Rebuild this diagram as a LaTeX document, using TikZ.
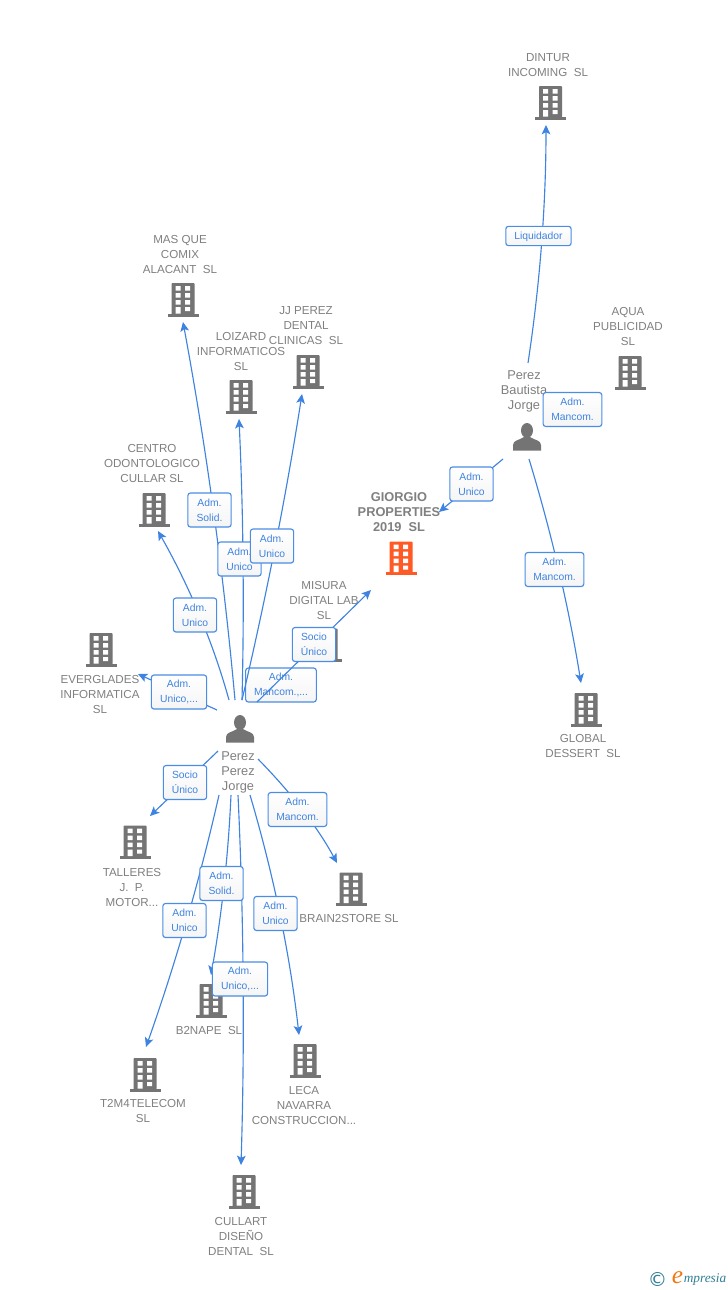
\documentclass[tikz,border=0pt]{standalone}
\usepackage{fontspec}
\setmainfont{Liberation Sans}
\newfontfamily\serifit{Liberation Serif}
\newfontfamily\symfont{DejaVu Sans}
\usetikzlibrary{arrows.meta,calc}
\definecolor{flowblue}{HTML}{3F83E0}
\definecolor{boxblue}{HTML}{4A8DE6}
\definecolor{txtgray}{HTML}{808080}
\definecolor{icongray}{HTML}{747474}
\definecolor{iconorange}{HTML}{FF5A26}
\definecolor{logoteal}{HTML}{2F7F96}
\definecolor{logoorange}{HTML}{F07A12}
\tikzset{
  x=0.75pt,y=-0.75pt,
  flow/.style={draw=flowblue,line width=0.85pt,-{Stealth[length=7pt,width=6.5pt,inset=1.6pt]}},
  tag/.style={draw=boxblue,line width=0.85pt,rounded corners=2pt,top color=white,bottom color=black!4,
    text=flowblue,font=\fontsize{7.75}{11.25}\selectfont,align=center,inner sep=0pt,minimum height=25.5pt},
  lbl/.style={text=txtgray,font=\fontsize{8.7}{11.25}\selectfont,align=center,inner sep=0pt},
  boldlbl/.style={text=txtgray,font=\fontsize{9.6}{11.25}\selectfont\bfseries,align=center,inner sep=0pt},
  perslbl/.style={text=txtgray,font=\fontsize{9.6}{11.25}\selectfont,align=center,inner sep=0pt},
  anchorbox/.style={inner sep=0pt,minimum width=24pt,minimum height=25.5pt},
  bldg/.pic={
    \fill[pic actions,rounded corners=0.6pt] (-11.5,-16.5) rectangle (11.5,15);
    \fill[pic actions] (-15.5,14) rectangle (15.5,17);
    \fill[white] (-7.5,-13.5) rectangle (-2.5,-9) (2,-13.5) rectangle (7,-9)
      (-7.5,-6.5) rectangle (-2.5,-2) (2,-6.5) rectangle (7,-2)
      (-7.5,0.5) rectangle (-2.5,5) (2,0.5) rectangle (7,5)
      (-7.5,7.5) rectangle (-2.5,14) (2,7.5) rectangle (7,11.5);
  },
  pers/.pic={
    \fill[icongray] (0,-6.5) ellipse (6 and 7.5);
    \fill[icongray] (-14,13.5) -- (-14,8) .. controls (-14,3) and (-7,3) .. (-3,0) -- (3,0)
      .. controls (7,3) and (14,3) .. (14,8) -- (14,13.5) -- cycle;
  }
}
\newcommand{\company}[8][icongray]{%
  \node[anchorbox] (#2) at (#3,#4) {};
  \pic[fill=#1] at (#2) {bldg};
  \node[#8] (#2-t) at (#5,#6) {#7};
}
% a true parabola from #1 to #3 with control point #2
\newcommand{\qflow}[3]{%
  \draw[flow] (#1) .. controls ($(#1)!0.6667!(#2)$) and ($(#3)!0.6667!(#2)$) .. (#3);
}
\begin{document}
\begin{tikzpicture}
\useasboundingbox (0,0) rectangle (728,1290);
\fill[white] (0,0) rectangle (728,1290);

\company{dintur}{550.5}{102.5}{548}{65}{DINTUR\\INCOMING~ SL}{lbl}
\company{aqua}{630}{372.5}{628}{326}{AQUA\\PUBLICIDAD\\SL}{lbl}
\company[iconorange]{giorgio}{401}{558}{399}{512}{GIORGIO\\PROPERTIES\\2019~ SL}{boldlbl}
\company{global}{586}{709.5}{583}{746}{GLOBAL\\DESSERT~ SL}{lbl}
\company{mas}{183}{299.5}{180}{254}{MAS QUE\\COMIX\\ALACANT~ SL}{lbl}
\company{loizard}{241}{396.5}{241}{351}{LOIZARD\\INFORMATICOS\\SL}{lbl}
\company{jj}{308}{371.5}{306}{326}{JJ PEREZ\\DENTAL\\CLINICAS~ SL}{lbl}
\company{centro}{154}{509.5}{152}{463}{CENTRO\\ODONTOLOGICO\\CULLAR SL}{lbl}
\company{everglades}{101}{649.5}{100}{694}{EVERGLADES\\INFORMATICA\\SL}{lbl}
\company{misura}{326}{645}{324}{600}{MISURA\\DIGITAL LAB\\SL}{lbl}
\company{talleres}{135}{842}{132}{887}{TALLERES\\J.~ P.\\MOTOR...}{lbl}
\company{brain}{351}{889}{349}{918}{BRAIN2STORE SL}{lbl}
\company{btwo}{211}{1000.5}{209}{1030}{B2NAPE~ SL}{lbl}
\company{ttwo}{145}{1074.5}{143}{1110.5}{T2M4TELECOM\\SL}{lbl}
\company{leca}{305}{1060.5}{304}{1105}{LECA\\NAVARRA\\CONSTRUCCION...}{lbl}
\company{cullart}{244}{1191.5}{241}{1236}{CULLART\\DISEÑO\\DENTAL~ SL}{lbl}

\node[anchorbox] (pp) at (240,729) {};
\pic at (pp) {pers};
\node[perslbl] (pp-t) at (238,772) {Perez\\Perez\\Jorge};
\node[anchorbox] (pb) at (527,437) {};
\pic at (pb) {pers};
\node[perslbl] (pb-t) at (524,391) {Perez\\Bautista\\Jorge};

% free ends of the connectors
\coordinate (s1) at (235,700);   \coordinate (e1) at (183,322);   \coordinate (c1) at (218,511);
\coordinate (s2) at (242,700);   \coordinate (e2) at (239,419);   \coordinate (c2) at (245.5,560);
\coordinate (s3) at (242,700);   \coordinate (e3) at (302,394);   \coordinate (c3) at (278,547);
\coordinate (s4) at (229,700);   \coordinate (e4) at (158,531);   \coordinate (c4) at (205.5,615);
\coordinate (s5) at (217,710);   \coordinate (e5) at (138,674);
\coordinate (s6) at (257,702);   \coordinate (e6) at (371,590);
\coordinate (s7) at (218,751);   \coordinate (e7) at (150,816);
\coordinate (s8) at (219,795);   \coordinate (e8) at (146,1047);  \coordinate (c8) at (190.5,921);
\coordinate (s9) at (231,795);   \coordinate (e9) at (211,975);   \coordinate (c9) at (227,885);
\coordinate (s10) at (238,795);  \coordinate (e10) at (241,1165); \coordinate (c10) at (246.7,980);
\coordinate (s11) at (250,795);  \coordinate (e11) at (299,1035); \coordinate (c11) at (285.5,915);
\coordinate (s12) at (258,759);  \coordinate (e12) at (337,863);  \coordinate (c12) at (309,811);
\coordinate (s13) at (528,363);  \coordinate (e13) at (546,125);  \coordinate (c13) at (546,244);
\coordinate (s14) at (503,459);  \coordinate (e14) at (439,512);
\coordinate (s15) at (529,459);  \coordinate (e15) at (581,683);  \coordinate (c15) at (563,571);

% this tag lies under the line to GIORGIO
\node[tag,minimum width=53pt] (t-misura) at (281,685) {Adm.\\Mancom.,...};

\qflow{s1}{c1}{e1}
\qflow{s2}{c2}{e2}
\qflow{s3}{c3}{e3}
\qflow{s4}{c4}{e4}
\draw[flow] (s5) -- (e5);
\draw[flow] (s6) -- (e6);
\draw[flow] (s7) -- (e7);
\qflow{s8}{c8}{e8}
\qflow{s9}{c9}{e9}
\qflow{s10}{c10}{e10}
\qflow{s11}{c11}{e11}
\qflow{s12}{c12}{e12}
\qflow{s13}{c13}{e13}
\draw[flow] (s14) -- (e14);
\qflow{s15}{c15}{e15}

\node[tag,minimum width=32.5pt] (t-mas) at (209.5,510) {Adm.\\Solid.};
\node[tag,minimum width=32.5pt] (t-loizard) at (239.5,559) {Adm.\\Unico};
\node[tag,minimum width=32.5pt] (t-jj) at (272,546) {Adm.\\Unico};
\node[tag,minimum width=32.5pt] (t-centro) at (195,615) {Adm.\\Unico};
\node[tag,minimum width=41.5pt] (t-ever) at (179,692) {Adm.\\Unico,...};
\node[tag,minimum width=32.5pt] (t-giorgio) at (314,644.5) {Socio\\Único};
\node[tag,minimum width=32.5pt] (t-talleres) at (185,782.5) {Socio\\Único};
\node[tag,minimum width=32.5pt] (t-ttwo) at (184.5,920.5) {Adm.\\Unico};
\node[tag,minimum width=32.5pt] (t-btwo) at (221.5,883.5) {Adm.\\Solid.};
\node[tag,minimum width=41.5pt] (t-cullart) at (240,979) {Adm.\\Unico,...};
\node[tag,minimum width=32.5pt] (t-leca) at (275.5,913.5) {Adm.\\Unico};
\node[tag,minimum width=44pt] (t-brain) at (297.5,809.5) {Adm.\\Mancom.};
\node[tag,minimum width=49pt,minimum height=14.5pt] (t-dintur) at (538.5,236) {\raisebox{-2.6pt}[0pt][0pt]{Liquidador}};
\node[tag,minimum width=44pt] (t-aqua) at (572.5,409.5) {Adm.\\Mancom.};
\node[tag,minimum width=32.5pt] (t-pb) at (471.5,484) {Adm.\\Unico};
\node[tag,minimum width=44pt] (t-global) at (554.5,569.5) {Adm.\\Mancom.};

% logo
\node[text=logoteal,font=\symfont\fontsize{14.5}{16}\selectfont,inner sep=0pt] (logo-c) at (657.5,1279) {©};
\node[text=logoorange,font=\serifit\itshape\fontsize{19}{20}\selectfont,inner sep=0pt] (logo-e) at (677.5,1278) {e};
\node[text=logoteal,font=\serifit\itshape\fontsize{10}{12}\selectfont,inner sep=0pt,anchor=west] (logo-t) at (683.5,1279) {mpresia};
\end{tikzpicture}
\end{document}
